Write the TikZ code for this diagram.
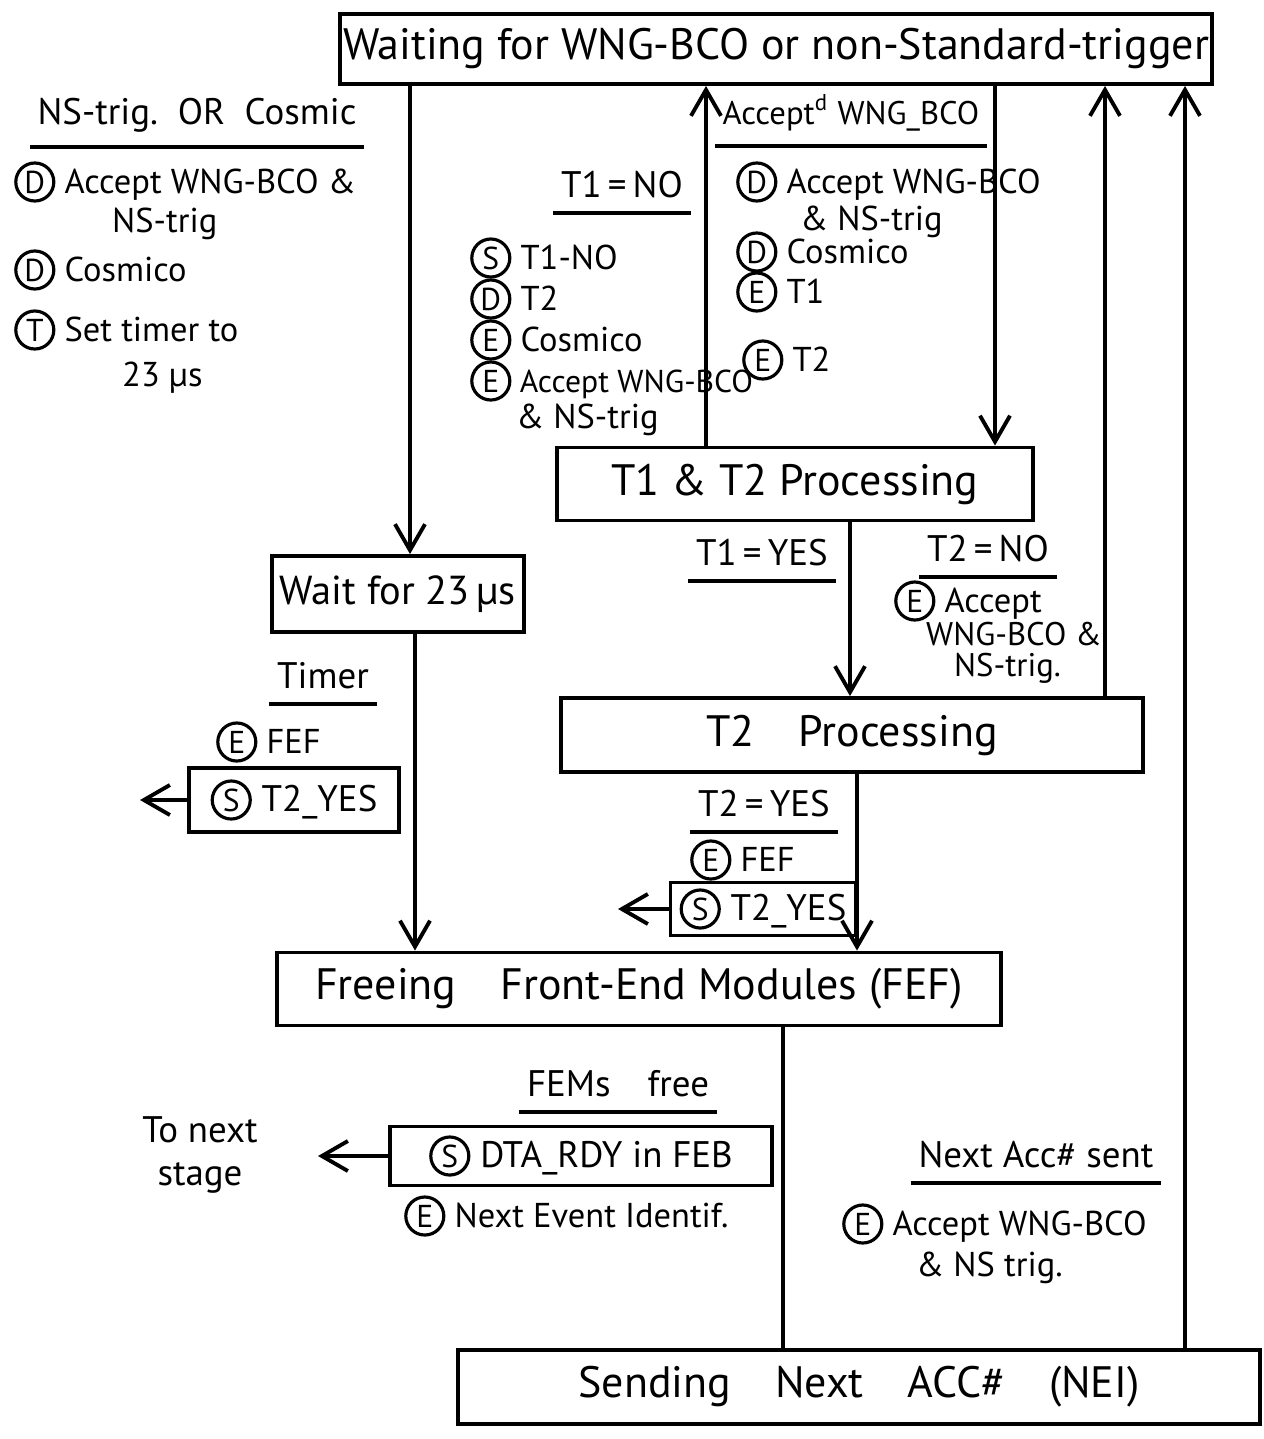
\documentclass[tikz,border=0pt]{standalone}
\usepackage{fontspec}
\setmainfont{PT Sans}
\usetikzlibrary{arrows.meta}

\newcommand{\cl}[1]{\tikz[baseline=(X.base)]\node[draw,shape=circle,line width=0.9pt,inner sep=0pt,minimum size=0.38cm](X){\fontsize{9}{10}\selectfont #1};}

\tikzset{
  state/.style={draw, line width=1.1pt, inner sep=0pt, font=\fontsize{12.5}{15}\selectfont},
  lbl/.style={inner sep=1pt, font=\fontsize{10.5}{12}\selectfont},
  item/.style={lbl, anchor=west, font=\fontsize{9.8}{12}\selectfont},
  head/.style={lbl, inner xsep=2pt, inner ysep=4pt},
  flow/.style={line width=1.1pt, -{Straight Barb[length=2.6mm,width=3mm,line width=1.1pt]}},
  uline/.style={line width=1.1pt},
}

\begin{document}
\begin{tikzpicture}[x=0.01cm, y=-0.01cm]
\useasboundingbox (0,0) rectangle (1264,1439);

% states
\node[state, minimum width=8.72cm, minimum height=0.70cm] (wait) at (776,49) {Waiting for WNG-BCO or non-Standard-trigger};
\node[state, minimum width=4.76cm, minimum height=0.73cm] (t12) at (795,484) {T1 \& T2 Processing};
\node[state, minimum width=2.52cm, minimum height=0.76cm, font=\fontsize{11.5}{14}\selectfont] (tmr) at (398,594) {Wait for 23\,µs};
\node[state, minimum width=5.81cm, minimum height=0.74cm] (t2) at (852,735) {T2\quad Processing};
\node[state, minimum width=7.23cm, minimum height=0.73cm] (free) at (639,989) {Freeing\quad Front-End Modules (FEF)};
\node[state, minimum width=8.02cm, minimum height=0.74cm] (send) at (859,1387) {Sending\quad Next\quad ACC\#\quad (NEI)};

% signal boxes
\node[lbl, draw, line width=1.1pt, minimum width=2.10cm, minimum height=0.64cm] (yesA) at (294,800) {\cl{S} T2\_YES};
\node[lbl, draw, line width=1.1pt, minimum width=1.85cm, minimum height=0.53cm] (yesB) at (763,909) {\cl{S} T2\_YES};
\node[lbl, draw, line width=1.1pt, minimum width=3.81cm, minimum height=0.59cm] (rdy) at (581,1156) {\cl{S} DTA\_RDY in FEB};

% columns of the transitions
\coordinate (cA) at (410,0);
\coordinate (cB) at (706,0);
\coordinate (cC) at (995,0);
\coordinate (cD) at (850,0);
\coordinate (cE) at (1105,0);
\coordinate (cF) at (1185,0);
\coordinate (cG) at (415,0);
\coordinate (cH) at (857,0);
\coordinate (cI) at (783,0);
\coordinate (outA) at (140,800);
\coordinate (outB) at (618,909);
\coordinate (outC) at (318,1156);

\draw[flow] (wait.south -| cA) -- (tmr.north -| cA);
\draw[flow] (t12.north -| cB) -- (wait.south -| cB);
\draw[flow] (wait.south -| cC) -- (t12.north -| cC);
\draw[flow] (t12.south -| cD) -- (t2.north -| cD);
\draw[flow] (t2.north -| cE) -- (wait.south -| cE);
\draw[flow] (send.north -| cF) -- (wait.south -| cF);
\draw[flow] (tmr.south -| cG) -- (free.north -| cG);
\draw[flow] (t2.south -| cH) -- (free.north -| cH);
\draw[line width=1.1pt] (free.south -| cI) -- (send.north -| cI);
\draw[flow] (yesA.west) -- (outA);
\draw[flow] (yesB.west) -- (outB);
\draw[flow] (rdy.west) -- (outC);

% conditions
\node[head] (hNS) at (197,115) {NS-trig.\ \ OR\ \ Cosmic};
\node[head] (hNO1) at (622,185) {T1\,=\,NO};
\node[head, font=\fontsize{9.3}{11}\selectfont] (hACC) at (851,113) {Accept\textsuperscript{d} WNG\_BCO};
\node[head] (hYES1) at (762,553) {T1\,=\,YES};
\node[head] (hNO2) at (988,549) {T2\,=\,NO};
\node[head] (hTMR) at (323,676) {Timer};
\node[head] (hYES2) at (764,804) {T2\,=\,YES};
\node[head] (hFEM) at (618,1084) {FEMs\quad free};
\node[head] (hNXT) at (1036,1155) {Next Acc\# sent};
\foreach \h in {hNS,hNO1,hACC,hYES1,hNO2,hTMR,hYES2,hFEM,hNXT}
  \draw[uline] (\h.south west) -- (\h.south east);

% actions
\node[item] (a1) at (10,182) {\cl{D} Accept WNG-BCO \&};
\node[item] (a2) at (108,224) {NS-trig};
\node[item] (a3) at (10,270) {\cl{D} Cosmico};
\node[item] (a4) at (10,330) {\cl{T} Set timer to};
\node[item] (a5) at (118,378) {23 µs};

\node[item] (b1) at (466,258) {\cl{S} T1-NO};
\node[item] (b2) at (466,299) {\cl{D} T2};
\node[item] (b3) at (466,340) {\cl{E} Cosmico};
\node[item, font=\fontsize{9}{11}\selectfont] (b4) at (466,381) {\cl{E} Accept WNG-BCO};
\node[item] (b5) at (512,420) {\& NS-trig};

\node[item] (c1) at (732,182) {\cl{D} Accept WNG-BCO};
\node[item] (c2) at (796,222) {\& NS-trig};
\node[item] (c3) at (732,252) {\cl{D} Cosmico};
\node[item] (c4) at (732,292) {\cl{E} T1};
\node[item] (c5) at (738,360) {\cl{E} T2};

\node[item] (d1) at (890,601) {\cl{E} Accept};
\node[item, font=\fontsize{9.3}{11}\selectfont] (d2) at (922,634) {WNG-BCO \&};
\node[item, font=\fontsize{9.3}{11}\selectfont] (d3) at (950,668) {NS-trig.};

\node[item] (e1) at (212,742) {\cl{E} FEF};
\node[item] (e2) at (686,860) {\cl{E} FEF};
\node[item] (e3) at (400,1216) {\cl{E} Next Event Identif.};
\node[item] (e4) at (838,1224) {\cl{E} Accept WNG-BCO};
\node[item] (e5) at (912,1268) {\& NS trig.};

\node[lbl, align=center] (nxt) at (200,1155) {To next\\stage};
\end{tikzpicture}
\end{document}
